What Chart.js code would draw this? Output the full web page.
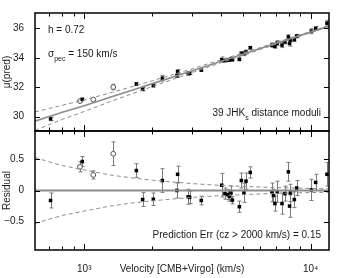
<!DOCTYPE html>
<html>
<head>
<meta charset="utf-8">
<script src="https://cdn.jsdelivr.net/npm/chart.js@4.4.0/dist/chart.umd.min.js"></script>
<style>
  body { margin: 0; background: #fff; }
  #wrap { position: relative; width: 346px; height: 278px; }
  #wrap canvas { position: absolute; left: 0; top: 0; }
</style>
</head>
<body>
<div id="wrap">
  <canvas id="muChart" width="346" height="278"></canvas>
  <canvas id="resChart" width="346" height="278"></canvas>
</div>
<script>
// filled points: velocity, predicted modulus, residual, error
const velFilled = [710, 980, 1699, 1811, 2019, 2213, 2566, 2584, 2877, 2920, 3288, 4046, 4182, 4297, 4371, 4448, 4510, 4842, 4942, 5074, 5180, 5412, 6744, 6850, 6950, 7120, 7470, 7700, 7970, 8070, 8130, 8470, 8670, 10070, 10520, 11800];
const muFilled = [29.85, 31.18, 32.22, 31.87, 32.12, 32.62, 32.79, 33.07, 32.94, 32.96, 33.17, 33.87, 33.82, 33.85, 33.86, 33.93, 33.87, 33.90, 34.30, 34.30, 34.40, 34.69, 34.87, 34.88, 34.78, 35.00, 34.87, 35.08, 35.42, 34.98, 35.22, 35.24, 35.48, 35.81, 36.00, 36.36];
const resFilled = [-0.16, 0.465, 0.32, -0.145, -0.14, 0.16, 0.0, 0.26, -0.10, -0.11, -0.16, 0.085, -0.05, -0.065, -0.09, -0.04, -0.155, -0.26, 0.16, -0.04, 0.15, 0.29, -0.03, -0.08, -0.21, -0.02, -0.21, -0.05, 0.30, -0.25, -0.04, -0.145, 0.04, 0.01, 0.13, 0.26];
const errFilled = [0.12, 0.08, 0.11, 0.11, 0.10, 0.19, 0.12, 0.13, 0.12, 0.10, 0.07, 0.19, 0.09, 0.08, 0.08, 0.11, 0.06, 0.09, 0.12, 0.15, 0.13, 0.09, 0.15, 0.10, 0.12, 0.17, 0.17, 0.12, 0.15, 0.18, 0.14, 0.13, 0.12, 0.17, 0.13, 0.19];

// open circles
const velOpen = [957, 1096, 1343];
const muOpen = [31.06, 31.17, 32.02];
const resOpen = [0.38, 0.25, 0.59];
const errOpen = [0.08, 0.065, 0.19];

// model line and sigma_pec envelope
const modelVel = [606, 700, 800, 1000, 1300, 1600, 2000, 3000, 4000, 6000, 8000, 12050];
const modelMu = [29.70, 30.01, 30.30, 30.75, 31.32, 31.77, 32.25, 33.13, 33.76, 34.64, 35.27, 36.16];
const envTop = [0.63, 0.55, 0.48, 0.39, 0.30, 0.245, 0.195, 0.13, 0.098, 0.065, 0.049, 0.033];
const envRes = [0.53, 0.46, 0.40, 0.33, 0.25, 0.205, 0.165, 0.11, 0.082, 0.055, 0.041, 0.027];

// axis ticks
const xTicks = [700, 800, 900, 1000, 2000, 3000, 4000, 5000, 6000, 7000, 8000, 9000, 10000];
const xMajor = [1000, 10000];
const muTicks = [30, 32, 34, 36];
const resTicks = [-0.5, 0, 0.5];

const FONT = '"Liberation Sans", Arial, Helvetica, sans-serif';
const TXT = '#1a1a1a';
const GREY = '#8c8c8c';

const pts = (xs, ys) => xs.map((v, i) => ({ x: v, y: ys[i] }));

// inward ticks on all four sides + black frame
const frameTicks = (yTicks) => ({
  id: 'frameTicks',
  afterDraw(chart) {
    const { ctx, chartArea: a, scales } = chart;
    ctx.save();
    ctx.strokeStyle = '#000';
    ctx.lineWidth = 1;
    ctx.beginPath();
    xTicks.forEach(v => {
      const x = Math.round(scales.x.getPixelForValue(v)) + 0.5;
      const len = xMajor.includes(v) ? 6 : 3.5;
      ctx.moveTo(x, a.bottom); ctx.lineTo(x, a.bottom - len);
      ctx.moveTo(x, a.top); ctx.lineTo(x, a.top + len);
    });
    yTicks.forEach(v => {
      const y = Math.round(scales.y.getPixelForValue(v)) + 0.5;
      ctx.moveTo(a.left, y); ctx.lineTo(a.left + 5, y);
      ctx.moveTo(a.right, y); ctx.lineTo(a.right - 5, y);
    });
    ctx.stroke();
    ctx.lineWidth = 1.5;
    ctx.strokeRect(a.left, a.top, a.right - a.left, a.bottom - a.top);
    ctx.restore();
  }
});

// vertical error bars with caps
const errorBars = {
  id: 'errorBars',
  beforeDatasetsDraw(chart) {
    const { ctx, scales: { x, y } } = chart;
    ctx.save();
    ctx.strokeStyle = '#7a7a7a';
    ctx.lineWidth = 1;
    chart.data.datasets.forEach(ds => {
      if (!ds.errors) return;
      ds.data.forEach((p, i) => {
        const px = Math.round(x.getPixelForValue(p.x)) + 0.5;
        const y1 = y.getPixelForValue(p.y - ds.errors[i]);
        const y2 = y.getPixelForValue(p.y + ds.errors[i]);
        ctx.beginPath();
        ctx.moveTo(px, y1); ctx.lineTo(px, y2);
        ctx.moveTo(px - 2, y1); ctx.lineTo(px + 2, y1);
        ctx.moveTo(px - 2, y2); ctx.lineTo(px + 2, y2);
        ctx.stroke();
      });
    });
    ctx.restore();
  }
};

// text with subscripts
function drawRich(ctx, parts, x, y, alignRight) {
  const main = '10px ' + FONT, small = '7px ' + FONT;
  let w = 0;
  parts.forEach(p => { ctx.font = p.sub ? small : main; w += ctx.measureText(p.t).width; });
  let cx = alignRight ? x - w : x;
  parts.forEach(p => {
    ctx.font = p.sub ? small : main;
    ctx.fillText(p.t, cx, p.sub ? y + 4 : y);
    cx += ctx.measureText(p.t).width;
  });
}

const notesTop = {
  id: 'notesTop',
  afterDraw(chart) {
    const ctx = chart.ctx;
    ctx.save();
    ctx.fillStyle = TXT;
    ctx.textBaseline = 'alphabetic';
    ctx.textAlign = 'left';
    drawRich(ctx, [{ t: 'h = 0.72' }], 48, 33, false);
    drawRich(ctx, [{ t: 'σ' }, { t: 'pec', sub: true }, { t: ' = 150 km/s' }], 48, 57, false);
    drawRich(ctx, [{ t: '39 JHK' }, { t: 's', sub: true }, { t: ' distance moduli' }], 321, 116, true);
    ctx.restore();
  }
};

const notesRes = {
  id: 'notesRes',
  afterDraw(chart) {
    const ctx = chart.ctx;
    ctx.save();
    ctx.fillStyle = TXT;
    ctx.textBaseline = 'alphabetic';
    ctx.textAlign = 'left';
    drawRich(ctx, [{ t: 'Prediction Err (cz > 2000 km/s) = 0.15' }], 321, 238, true);
    ctx.restore();
  }
};

const yAxis = (min, max, ticks, title, fmt) => ({
  min: min,
  max: max,
  afterBuildTicks: s => { s.ticks = ticks.map(v => ({ value: v })); },
  afterFit: s => { s.width = 35; },
  grid: { display: false },
  border: { display: false },
  ticks: { padding: 3, color: TXT, font: { family: FONT, size: 10 }, callback: fmt },
  title: { display: true, text: title, color: TXT, padding: { top: 1, bottom: 0 }, font: { family: FONT, size: 10 } }
});

const filledStyle = { pointStyle: 'rect', pointRadius: 2.5, backgroundColor: '#000', borderWidth: 0 };
const openStyle = { pointStyle: 'circle', pointRadius: 2.4, backgroundColor: '#fff', borderColor: '#555', borderWidth: 1 };

// top panel: mu(pred)
new Chart(document.getElementById('muChart'), {
  type: 'scatter',
  data: {
    datasets: [
      { data: pts(modelVel, modelMu.map((m, i) => m + envTop[i])), showLine: true, borderColor: GREY, borderWidth: 1, borderDash: [4, 3], pointRadius: 0 },
      { data: pts(modelVel, modelMu.map((m, i) => m - envTop[i])), showLine: true, borderColor: GREY, borderWidth: 1, borderDash: [4, 3], pointRadius: 0 },
      { data: pts(modelVel, modelMu), showLine: true, borderColor: GREY, borderWidth: 1.6, pointRadius: 0 },
      { data: pts(velFilled, muFilled), errors: errFilled, ...filledStyle },
      { data: pts(velOpen, muOpen), errors: errOpen, ...openStyle }
    ]
  },
  options: {
    responsive: false,
    animation: false,
    devicePixelRatio: 1,
    layout: { padding: { left: 0, top: 13, right: 17, bottom: 147 } },
    plugins: { legend: { display: false }, tooltip: { enabled: false } },
    scales: {
      x: { type: 'logarithmic', min: 606, max: 12050, display: false },
      y: yAxis(29.03, 37.05, muTicks, 'μ(pred)', v => String(v))
    }
  },
  plugins: [errorBars, frameTicks(muTicks), notesTop]
});

// bottom panel: residuals
new Chart(document.getElementById('resChart'), {
  type: 'scatter',
  data: {
    datasets: [
      { data: pts(modelVel, envRes), showLine: true, borderColor: GREY, borderWidth: 1, borderDash: [4, 3], pointRadius: 0 },
      { data: pts(modelVel, envRes.map(e => -e)), showLine: true, borderColor: GREY, borderWidth: 1, borderDash: [4, 3], pointRadius: 0 },
      { data: pts([606, 12050], [0, 0]), showLine: true, borderColor: GREY, borderWidth: 2, pointRadius: 0 },
      { data: pts(velFilled, resFilled), errors: errFilled, ...filledStyle },
      { data: pts(velOpen, resOpen), errors: errOpen, ...openStyle }
    ]
  },
  options: {
    responsive: false,
    animation: false,
    devicePixelRatio: 1,
    layout: { padding: { left: 0, top: 131, right: 17, bottom: 0 } },
    plugins: { legend: { display: false }, tooltip: { enabled: false } },
    scales: {
      x: {
        type: 'logarithmic',
        min: 606,
        max: 12050,
        afterBuildTicks: s => { s.ticks = xTicks.map(v => ({ value: v, major: xMajor.includes(v) })); },
        afterFit: s => { s.height = 28; },
        grid: { display: false },
        border: { display: false },
        ticks: {
          autoSkip: false,
          maxRotation: 0,
          padding: 5,
          color: TXT,
          font: { family: FONT, size: 10 },
          callback: v => (v === 1000 ? '10³' : v === 10000 ? '10⁴' : '')
        },
        title: { display: true, text: 'Velocity [CMB+Virgo] (km/s)', color: TXT, padding: { top: 0, bottom: 3 }, font: { family: FONT, size: 10 } }
      },
      y: yAxis(-0.955, 0.955, resTicks, 'Residual', v => (v === 0 ? '0' : v < 0 ? '−' + Math.abs(v) : String(v)))
    }
  },
  plugins: [errorBars, frameTicks(resTicks), notesRes]
});
</script>
</body>
</html>
